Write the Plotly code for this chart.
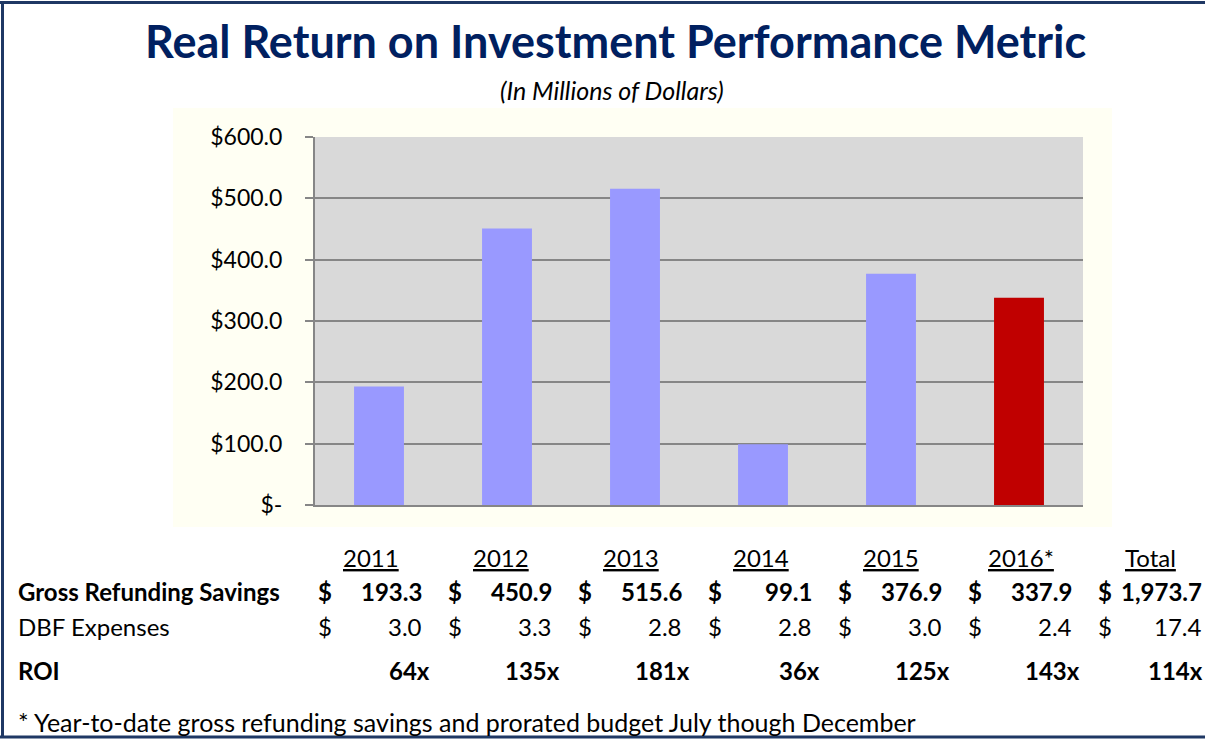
import plotly.graph_objects as go

# ---------------- data ----------------
years = ["2011", "2012", "2013", "2014", "2015", "2016*"]
gross_savings = [193.3, 450.9, 515.6, 99.1, 376.9, 337.9]
dbf_expenses = [3.0, 3.3, 2.8, 2.8, 3.0, 2.4]
roi_labels = ["64x", "135x", "181x", "36x", "125x", "143x"]
total_label = "Total"
total_gross = "1,973.7"
total_dbf = "17.4"
total_roi = "114x"
bar_colors = ["#9999FF", "#9999FF", "#9999FF", "#9999FF", "#9999FF", "#C00000"]
y_tickvals = [0, 100, 200, 300, 400, 500, 600]
y_ticktext = ["$-", "$100.0", "$200.0", "$300.0", "$400.0", "$500.0", "$600.0"]

title_text = "Real Return on Investment Performance Metric"
subtitle_text = "(In Millions of Dollars)"
footnote_text = "* Year-to-date gross refunding savings and prorated budget July though December"

# ---------------- layout geometry (pixels) ----------------
W, H = 1205, 740
ML, MR, MT, MB = 315, 122, 137, 235
PW = W - ML - MR
PH = H - MT - MB


def px(x):
    return (x - ML) / PW


def py(y):
    return (H - MB - y) / PH


FONT = "Lato"
NAVY = "#002060"

fig = go.Figure()
fig.add_trace(go.Bar(
    x=list(range(len(years))),
    y=gross_savings,
    marker=dict(color=bar_colors, line=dict(width=0)),
    width=0.39,
    hoverinfo="y",
    showlegend=False,
))

shapes = [
    # cream chart area
    dict(type="rect", xref="paper", yref="paper", x0=px(173), x1=px(1112), y0=py(527), y1=py(108),
         fillcolor="#FFFFF3", line=dict(width=0), layer="below"),
    # gray plot area
    dict(type="rect", xref="paper", yref="paper", x0=0, x1=1, y0=0, y1=1,
         fillcolor="#D9D9D9", line=dict(width=0), layer="below"),
    # outer navy border (top, left, bottom)
    dict(type="line", xref="paper", yref="paper", x0=px(0), x1=px(W + 5), y0=py(2.5), y1=py(2.5),
         line=dict(color="#1F3864", width=3)),
    dict(type="line", xref="paper", yref="paper", x0=px(2.5), x1=px(2.5), y0=py(1), y1=py(738),
         line=dict(color="#1F3864", width=3)),
    dict(type="line", xref="paper", yref="paper", x0=px(0), x1=px(W + 5), y0=py(737), y1=py(737),
         line=dict(color="#1F3864", width=3)),
]

ann = []


def add_text(text, x, y, size, xanchor="center", bold=False, italic=False, color="black"):
    ann.append(dict(
        text=text, x=px(x), y=py(y), xref="paper", yref="paper",
        xanchor=xanchor, yanchor="middle", showarrow=False, borderpad=0,
        font=dict(family=FONT, size=size, color=color,
                  weight="bold" if bold else "normal",
                  style="italic" if italic else "normal"),
    ))


# title & subtitle
add_text(title_text, 615, 41, 45, bold=True, color=NAVY)
add_text(subtitle_text, 612, 90, 25, italic=True)

# table
row_y = dict(head=557, gross=591, dbf=626, roi=670)
TS = 24
add_text("Gross Refunding Savings", 17, row_y["gross"], TS, xanchor="left", bold=True)
add_text("DBF Expenses", 17, row_y["dbf"], TS, xanchor="left")
add_text("ROI", 17, row_y["roi"], TS, xanchor="left", bold=True)

col_step = 130
for i in range(len(years) + 1):
    dollar_x = 317 + col_step * i
    val_right = 423 + col_step * i
    head_c = 370.5 + col_step * i
    roi_right = val_right + 8
    if i < len(years):
        head, g, d, r = years[i], f"{gross_savings[i]:.1f}", f"{dbf_expenses[i]:.1f}", roi_labels[i]
    else:
        head, g, d, r = total_label, total_gross, total_dbf, total_roi
        val_right = 1203
        roi_right = 1204
    add_text(f"<u>{head}</u>", head_c, row_y["head"], TS)
    add_text("$", dollar_x, row_y["gross"], TS, xanchor="left", bold=True)
    add_text(g, val_right, row_y["gross"], TS, xanchor="right", bold=True)
    add_text("$", dollar_x, row_y["dbf"], TS, xanchor="left")
    add_text(d, val_right, row_y["dbf"], TS, xanchor="right")
    add_text(r, roi_right, row_y["roi"], TS, xanchor="right", bold=True)

add_text(footnote_text, 17, 722, 25, xanchor="left")

fig.update_layout(
    width=W, height=H,
    margin=dict(l=ML, r=MR, t=MT, b=MB, pad=0),
    paper_bgcolor="white",
    plot_bgcolor="rgba(0,0,0,0)",
    shapes=shapes,
    annotations=ann,
    showlegend=False,
    font=dict(family=FONT, color="black"),
    xaxis=dict(range=[-0.5, len(years) - 0.5], showticklabels=False, ticks="",
               showgrid=False, zeroline=False, showline=True, linecolor="#868686",
               linewidth=2, fixedrange=True),
    yaxis=dict(range=[0, 600], tickvals=y_tickvals, ticktext=y_ticktext,
               showgrid=True, gridcolor="#868686", gridwidth=2, zeroline=False,
               showline=True, linecolor="#868686", linewidth=2,
               ticks="outside", ticklen=8, tickwidth=2, tickcolor="#868686",
               ticklabelstandoff=18,
               tickfont=dict(family=FONT, size=23, color="black"), fixedrange=True),
    bargap=0.61,
)

fig.write_html(
    "out.html",
    config={"displayModeBar": False},
    post_script="document.body.style.margin='0';document.body.style.overflow='hidden';",
)
